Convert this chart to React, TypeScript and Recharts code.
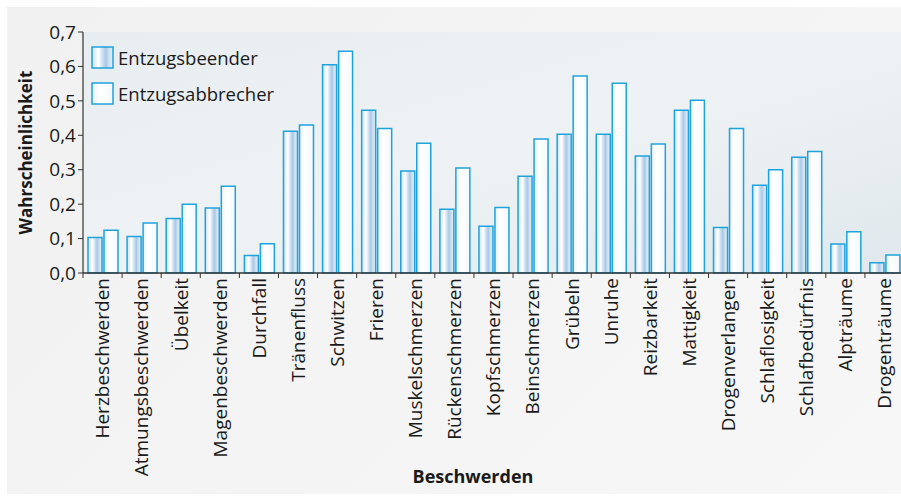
import React from 'react';
import { BarChart, Bar, XAxis, YAxis, CartesianGrid, Legend } from 'recharts';

const categories = [
    'Herzbeschwerden', 'Atmungsbeschwerden', 'Übelkeit', 'Magenbeschwerden', 'Durchfall',
    'Tränenfluss', 'Schwitzen', 'Frieren', 'Muskelschmerzen', 'Rückenschmerzen',
    'Kopfschmerzen', 'Beinschmerzen', 'Grübeln', 'Unruhe', 'Reizbarkeit', 'Mattigkeit',
    'Drogenverlangen', 'Schlaflosigkeit', 'Schlafbedürfnis', 'Alpträume', 'Drogenträume'
];

const beender = [
    0.103, 0.106, 0.158, 0.189, 0.051, 0.412, 0.605, 0.473, 0.296, 0.185,
    0.136, 0.281, 0.403, 0.403, 0.34, 0.473, 0.132, 0.255, 0.336, 0.084, 0.03
];

const abbrecher = [
    0.124, 0.145, 0.2, 0.252, 0.085, 0.43, 0.644, 0.42, 0.377, 0.305,
    0.19, 0.389, 0.572, 0.551, 0.375, 0.502, 0.42, 0.3, 0.353, 0.12, 0.052
];

const yTicks = [0, 0.1, 0.2, 0.3, 0.4, 0.5, 0.6, 0.7];

const seriesNames = ['Entzugsbeender', 'Entzugsabbrecher'];

const data = categories.map((name, i) => ({ name, beender: beender[i], abbrecher: abbrecher[i] }));

const FONT = '"Open Sans", "Noto Sans", sans-serif';
const BLUE = '#1fa3dc';

const GradBeender = ({ id }: { id: string }) => (
    <linearGradient id={id} x1="0" y1="0" x2="1" y2="0">
        <stop offset="0%" stopColor="#cfe2f2" />
        <stop offset="18%" stopColor="#e9f2fa" />
        <stop offset="32%" stopColor="#ffffff" />
        <stop offset="50%" stopColor="#cde0f1" />
        <stop offset="66%" stopColor="#a9c9e6" />
        <stop offset="82%" stopColor="#cfe1f1" />
        <stop offset="100%" stopColor="#e6f0f8" />
    </linearGradient>
);

const GradAbbrecher = ({ id }: { id: string }) => (
    <linearGradient id={id} x1="0" y1="0" x2="1" y2="0">
        <stop offset="0%" stopColor="#e4eff8" />
        <stop offset="35%" stopColor="#ffffff" />
        <stop offset="100%" stopColor="#f3f8fc" />
    </linearGradient>
);

const renderLegend = () => (
    <div style={{ fontFamily: FONT, fontSize: 18.5, color: '#1a1a1a' }}>
        {seriesNames.map((s, i) => (
            <div key={s} style={{ display: 'flex', alignItems: 'center', height: 22, marginBottom: 14 }}>
                <svg width={23} height={23} style={{ marginRight: 4 }}>
                    <defs>
                        {i === 0 ? <GradBeender id="lg0" /> : <GradAbbrecher id="lg1" />}
                    </defs>
                    <rect x={1} y={1} width={21} height={21} fill={`url(#lg${i})`} stroke={BLUE} strokeWidth={1.5} />
                </svg>
                <span>{s}</span>
            </div>
        ))}
    </div>
);

const CategoryTick = (props: any) => {
    const { x, y, payload } = props;
    const half = payload.offset || 0;
    return (
        <g>
            <line x1={x - half} y1={y} x2={x - half} y2={y + 5} stroke="#333" strokeWidth={1} />
            <g transform={`translate(${x},${y + 5}) rotate(-90)`}>
                <text textAnchor="end" dy="0.36em" fontFamily={FONT} fontSize={19} fill="#1a1a1a">
                    {payload.value}
                </text>
            </g>
        </g>
    );
};

export default function App() {
    return (
        <div style={{ position: 'absolute', left: 0, top: 0, width: 901, height: 501, background: '#ffffff', overflow: 'hidden' }}>
            <div style={{ position: 'absolute', left: 7, top: 7, right: 0, bottom: 7, background: 'linear-gradient(135deg, #f1f1f1, #f7f7f7)' }} />
            <BarChart
                width={901}
                height={501}
                data={data}
                margin={{ top: 32, right: -3, left: 0, bottom: 0 }}
                barGap={2}
                barSize={14}
                style={{ position: 'absolute', left: 0, top: 0 }}
            >
                <defs>
                    <GradBeender id="gBeender" />
                    <GradAbbrecher id="gAbbrecher" />
                    <linearGradient id="plotBg" x1="0" y1="0" x2="1" y2="1">
                        <stop offset="0%" stopColor="#e8edf1" />
                        <stop offset="50%" stopColor="#eef2f4" />
                        <stop offset="100%" stopColor="#e0e8ed" />
                    </linearGradient>
                </defs>
                <CartesianGrid horizontal={false} vertical={false} fill="url(#plotBg)" stroke="none" />
                <XAxis
                    dataKey="name"
                    interval={0}
                    height={228}
                    tickSize={0}
                    tickMargin={0}
                    tickLine={false}
                    axisLine={{ stroke: '#333', strokeWidth: 1.5 }}
                    tick={<CategoryTick />}
                    label={{
                        content: ({ viewBox }: any) => (
                            <text
                                x={viewBox.x + viewBox.width * 0.475}
                                y={476}
                                textAnchor="middle"
                                dominantBaseline="central"
                                fontFamily={FONT}
                                fontSize={18}
                                fontWeight="bold"
                                fill="#1a1a1a"
                            >
                                Beschwerden
                            </text>
                        ),
                    }}
                />
                <YAxis
                    width={83}
                    domain={[0, 0.7]}
                    ticks={yTicks}
                    tickFormatter={(v: number) => v.toFixed(1).replace('.', ',')}
                    tickSize={5}
                    tickMargin={2}
                    tickLine={{ stroke: '#333' }}
                    axisLine={{ stroke: '#333', strokeWidth: 1.2 }}
                    tick={{ fontFamily: FONT, fontSize: 19, fill: '#1a1a1a' }}
                    label={{
                        content: ({ viewBox }: any) => {
                            const cx = 25;
                            const cy = viewBox.y + viewBox.height / 2;
                            return (
                                <text
                                    x={cx}
                                    y={cy}
                                    transform={`rotate(-90, ${cx}, ${cy})`}
                                    textAnchor="middle"
                                    dominantBaseline="central"
                                    fontFamily={FONT}
                                    fontSize={17}
                                    fontWeight="bold"
                                    fill="#1a1a1a"
                                >
                                    Wahrscheinlichkeit
                                </text>
                            );
                        },
                    }}
                />
                <Legend
                    layout="vertical"
                    align="center"
                    verticalAlign="middle"
                    content={renderLegend}
                    wrapperStyle={{ left: 91, top: 46, width: 250 }}
                />
                <Bar dataKey="beender" name={seriesNames[0]} fill="url(#gBeender)" stroke={BLUE} strokeWidth={1.5} isAnimationActive={false} />
                <Bar dataKey="abbrecher" name={seriesNames[1]} fill="url(#gAbbrecher)" stroke={BLUE} strokeWidth={1.5} isAnimationActive={false} />
            </BarChart>
        </div>
    );
}
